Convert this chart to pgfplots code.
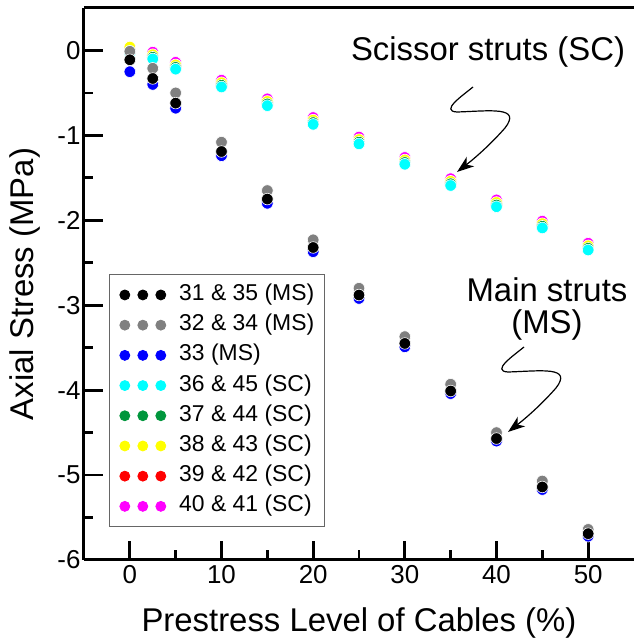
\documentclass[border=0pt]{standalone}
\usepackage{fontspec}
\setmainfont{Liberation Sans}
\usepackage{pgfplots}
\pgfplotsset{compat=1.18}
\usetikzlibrary{arrows.meta}
\definecolor{cgreen}{RGB}{0,150,60}
\definecolor{cgray}{RGB}{128,128,128}
\definecolor{ccyan}{RGB}{0,255,255}
\definecolor{cmagenta}{RGB}{255,0,255}
\definecolor{cyellow}{RGB}{255,255,0}
\definecolor{cred}{RGB}{255,0,0}
\definecolor{cblue}{RGB}{0,0,255}
\tikzset{pt/.style={color=#1, mark options={draw=white, fill=#1, line width=0.6bp}}}
\begin{document}
\begin{tikzpicture}
\begin{axis}[
 scale only axis, width=550bp, height=552bp,
 xmin=-5, xmax=55, ymin=-6, ymax=0.5,
 axis lines=left, axis line style={-, line width=3bp},
 clip=false,
 xtick={0,10,...,50}, ytick={-6,-5,...,0}, minor tick num=1,
 tick align=inside, major tick length=19bp, minor tick length=9.5bp,
 tick style={line width=2.8bp, black},
 /pgf/number format/assume math mode=true,
 tick label style={font=\fontsize{26}{30}\selectfont},
 xticklabel style={yshift=-2bp},
 label style={font=\fontsize{33}{38}\selectfont},
 xlabel={Prestress Level of Cables (\%)},
 ylabel={Axial Stress (MPa)},
 xlabel style={at={([yshift=-63bp]rel axis cs:0.5,0)}, anchor=center},
 ylabel style={at={([xshift=-59bp]rel axis cs:0,0.5)}, anchor=center},
 every axis plot/.append style={only marks, mark=*, mark size=5.8bp},
 legend image code/.code={\foreach \xx in {0,18,36} {\fill (\xx bp,0bp) circle (5bp);}},
 reverse legend,
 legend cell align=left,
 legend style={at={(rel axis cs:0.0455,0.518)}, anchor=north west,
   draw=black!60, line width=0.8bp, font=\fontsize{23}{26}\selectfont,
   inner sep=10bp, row sep=9.2bp,
   nodes={inner sep=0pt, text height=16bp, text depth=5bp},
   /tikz/every odd column/.append style={column sep=13bp}},
]
\addplot[pt=cmagenta] table {
x y
0 0.02
2.5 -0.02
5 -0.14
10 -0.35
15 -0.57
20 -0.79
25 -1.02
30 -1.26
35 -1.51
40 -1.76
45 -2.01
50 -2.27
};
\addlegendentry{40 \& 41 (SC)}
\addplot[pt=cred] table {
x y
0 0.03
2.5 -0.06
5 -0.18
10 -0.39
15 -0.61
20 -0.83
25 -1.06
30 -1.30
35 -1.55
40 -1.80
45 -2.05
50 -2.31
};
\addlegendentry{39 \& 42 (SC)}
\addplot[pt=cyellow] table {
x y
0 0.04
2.5 -0.05
5 -0.17
10 -0.38
15 -0.60
20 -0.82
25 -1.05
30 -1.29
35 -1.54
40 -1.79
45 -2.04
50 -2.30
};
\addlegendentry{38 \& 43 (SC)}
\addplot[pt=cgreen] table {
x y
0 -0.01
2.5 -0.08
5 -0.20
10 -0.41
15 -0.63
20 -0.85
25 -1.08
30 -1.32
35 -1.57
40 -1.82
45 -2.07
50 -2.33
};
\addlegendentry{37 \& 44 (SC)}
\addplot[pt=ccyan] table {
x y
0 -0.03
2.5 -0.10
5 -0.22
10 -0.43
15 -0.65
20 -0.87
25 -1.10
30 -1.34
35 -1.59
40 -1.84
45 -2.09
50 -2.35
};
\addlegendentry{36 \& 45 (SC)}
\addplot[pt=cblue] table {
x y
0 -0.25
2.5 -0.40
5 -0.68
10 -1.24
15 -1.80
20 -2.37
25 -2.92
30 -3.49
35 -4.04
40 -4.60
45 -5.17
50 -5.72
};
\addlegendentry{33 (MS)}
\addplot[pt=cgray] table {
x y
0 -0.01
2.5 -0.21
5 -0.50
10 -1.08
15 -1.65
20 -2.23
25 -2.80
30 -3.37
35 -3.93
40 -4.50
45 -5.07
50 -5.64
};
\addlegendentry{32 \& 34 (MS)}
\addplot[pt=black] table {
x y
0 -0.11
2.5 -0.33
5 -0.62
10 -1.19
15 -1.75
20 -2.32
25 -2.88
30 -3.45
35 -4.01
40 -4.57
45 -5.14
50 -5.69
};
\addlegendentry{31 \& 35 (MS)}
\draw[line width=3bp] (rel axis cs:0,1) -- (rel axis cs:1,1);
\coordinate (tl) at (rel axis cs:0,1);
\end{axis}
\coordinate (O) at ([xshift=-84bp,yshift=8bp]tl);
\begin{scope}[shift={(O)}, x=1bp, y=-1bp]
\node[font=\fontsize{33}{38}\selectfont] at (488,52) {Scissor struts (SC)};
\node[font=\fontsize{33}{38}\selectfont] at (547,290) {Main struts};
\node[font=\fontsize{33}{38}\selectfont] at (547,325) {(MS)};
\foreach \dx/\dy in {0/0, 51/260} {
\draw[line width=1.2bp, -{Stealth[length=17bp, width=12bp, inset=5bp]}]
  (473+\dx,87+\dy) .. controls (462+\dx,96+\dy) and (440+\dx,111+\dy) .. (457+\dx,112+\dy)
  .. controls (490+\dx,111+\dy) and (522+\dx,106+\dy) .. (505+\dx,128+\dy)
  .. controls (490+\dx,145+\dy) and (475+\dx,158+\dy) .. (457+\dx,172+\dy);
}
\end{scope}
\pgfresetboundingbox
\path (O) rectangle ([xshift=634bp,yshift=-642bp]O);
\end{tikzpicture}
\end{document}
